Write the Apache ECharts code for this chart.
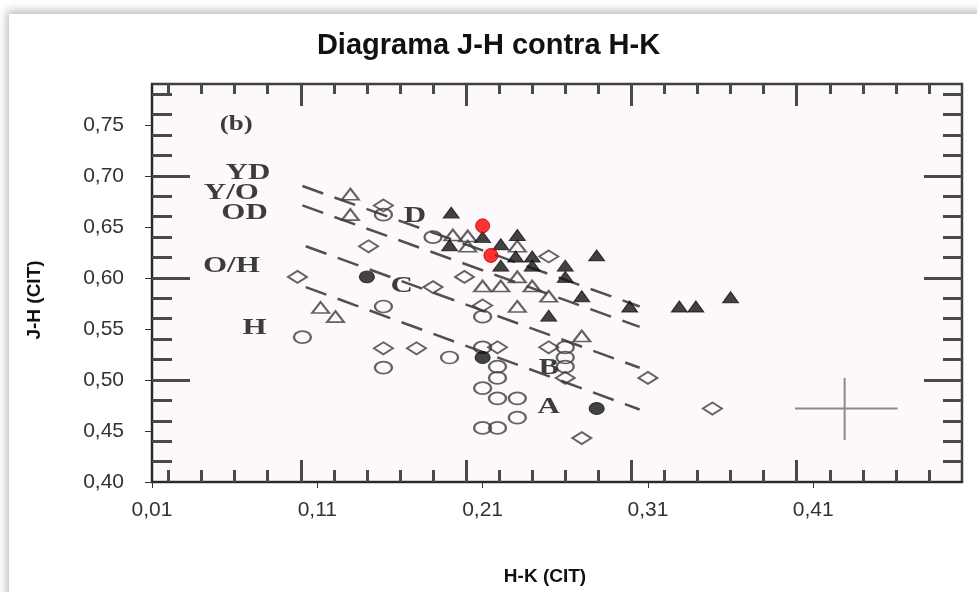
<!DOCTYPE html>
<html>
<head>
<meta charset="utf-8">
<title>Diagrama J-H contra H-K</title>
<script src="https://cdn.jsdelivr.net/npm/echarts@6.0.0/dist/echarts.min.js"></script>
<style>
  html, body { margin: 0; padding: 0; background: #fff; overflow: hidden; }
  #frame { position: absolute; left: 9px; top: 14px; width: 990px; height: 600px; background: #fff;
           box-shadow: -2px -3px 9px rgba(0, 0, 0, 0.28); }
  #chart { position: absolute; left: 0; top: 0; width: 977px; height: 592px; }
</style>
</head>
<body>
<div id="frame"></div>
<div id="chart"></div>
<script>
// axis ticks (Excel axes)
const xTicks = [0.01, 0.11, 0.21, 0.31, 0.41];
const yTicks = [0.40, 0.45, 0.50, 0.55, 0.60, 0.65, 0.70, 0.75];

// ticks drawn on the frame of the scanned figure
const scanXMinor = [0.02, 0.04, 0.06, 0.08, 0.12, 0.14, 0.16, 0.18, 0.22, 0.24, 0.26, 0.28,
                    0.32, 0.34, 0.36, 0.38, 0.42, 0.44, 0.46, 0.48];
const scanXMajor = [0.1, 0.2, 0.3, 0.4];
const scanYMinor = [0.42, 0.44, 0.46, 0.48, 0.52, 0.54, 0.56, 0.58, 0.62, 0.64, 0.66, 0.68,
                    0.72, 0.74, 0.76, 0.78];
const scanYMajor = [0.5, 0.6, 0.7];

// the two points added on top of the figure (H-K, J-H)
const redPoints = [[0.210, 0.651], [0.215, 0.622]];

// points of the scanned figure
const filledTriangles = [
    [0.191, 0.664], [0.190, 0.632], [0.210, 0.640], [0.221, 0.633], [0.231, 0.642],
    [0.230, 0.621], [0.240, 0.621], [0.279, 0.622], [0.221, 0.612], [0.240, 0.612],
    [0.260, 0.612], [0.260, 0.601], [0.270, 0.582], [0.299, 0.572], [0.329, 0.572],
    [0.339, 0.572], [0.360, 0.581], [0.250, 0.563]
];
const openTriangles = [
    [0.130, 0.682], [0.130, 0.662], [0.112, 0.571], [0.121, 0.562], [0.192, 0.642],
    [0.201, 0.641], [0.201, 0.631], [0.231, 0.631], [0.231, 0.601], [0.240, 0.592],
    [0.210, 0.592], [0.221, 0.592], [0.250, 0.582], [0.231, 0.572], [0.270, 0.543]
];
const openDiamonds = [
    [0.098, 0.601], [0.150, 0.671], [0.141, 0.631], [0.150, 0.531], [0.170, 0.531],
    [0.199, 0.601], [0.180, 0.591], [0.210, 0.573], [0.250, 0.621], [0.219, 0.532],
    [0.250, 0.532], [0.260, 0.502], [0.310, 0.502], [0.270, 0.443], [0.349, 0.472]
];
const openCircles = [
    [0.150, 0.662], [0.180, 0.640], [0.150, 0.572], [0.101, 0.542], [0.150, 0.512],
    [0.190, 0.522], [0.210, 0.562], [0.210, 0.532], [0.219, 0.513], [0.219, 0.502],
    [0.210, 0.492], [0.219, 0.482], [0.231, 0.482], [0.231, 0.463], [0.210, 0.453],
    [0.219, 0.453], [0.260, 0.532], [0.260, 0.522], [0.260, 0.513]
];
const filledCircles = [[0.140, 0.601], [0.210, 0.522], [0.279, 0.472]];

// dashed boundaries of the figure
const guideLines = [
    [[0.101, 0.690], [0.305, 0.572]],
    [[0.101, 0.671], [0.305, 0.552]],
    [[0.103, 0.631], [0.305, 0.512]],
    [[0.103, 0.591], [0.305, 0.471]]
];
// error bar cross
const crossH = [[0.399, 0.472], [0.461, 0.472]];
const crossV = [[0.429, 0.441], [0.429, 0.502]];

// labels written inside the figure
const labelText = ['(b)', 'YD', 'Y/O', 'OD', 'O/H', 'H', 'D', 'C', 'B', 'A'];
const labelHK = [0.061, 0.068, 0.058, 0.066, 0.058, 0.072, 0.169, 0.161, 0.250, 0.250];
const labelJH = [0.750, 0.703, 0.683, 0.664, 0.612, 0.551, 0.661, 0.592, 0.512, 0.473];

const sans = '"Liberation Sans", Arial, sans-serif';
const fmt = v => v.toFixed(2).replace('.', ',');
const scanInk = '#3c3c3c';

const chart = echarts.init(document.getElementById('chart'));

function scanAxis(position, min, max, values, length) {
    return {
        type: 'value', position, min, max,
        axisLine: {show: false, onZero: false},
        axisLabel: {show: false},
        splitLine: {show: false},
        axisTick: {show: true, inside: true, length, customValues: values,
                   lineStyle: {color: '#4a4a4a', width: 3}}
    };
}

function scatter(data, symbol, size, filled) {
    return {
        type: 'scatter', data, symbol, symbolSize: size, z: 3,
        itemStyle: filled
            ? {color: '#141414', borderColor: '#141414', borderWidth: 1}
            : {color: 'rgba(0,0,0,0)', borderColor: scanInk, borderWidth: 2}
    };
}

const lineSeries = guideLines.map(seg => ({
    type: 'line', data: seg, symbol: 'none', z: 2,
    lineStyle: {color: '#505050', width: 2.5, type: [22, 12]}
}));

const crossSeries = [crossH, crossV].map(seg => ({
    type: 'line', data: seg, symbol: 'none', z: 2,
    lineStyle: {color: '#8a8a8a', width: 2}
}));

const option = {
    animation: false,
    title: {
        text: 'Diagrama J-H contra H-K', left: 'center', top: 26,
        textStyle: {fontFamily: sans, fontSize: 29, fontWeight: 'bold', color: '#111'}
    },
    grid: {
        left: 152, top: 84, width: 810, height: 398, show: true,
        backgroundColor: '#fdf8fc', borderColor: '#404040', borderWidth: 2.5
    },
    xAxis: [
        {
            type: 'value', position: 'bottom', min: 0.01, max: 0.5,
            axisLine: {show: true, onZero: false, lineStyle: {color: '#222', width: 1.5}},
            axisTick: {show: true, length: 6, customValues: xTicks, lineStyle: {color: '#333'}},
            axisLabel: {customValues: xTicks, formatter: fmt, margin: 18,
                        fontFamily: sans, fontSize: 21, color: '#333'},
            splitLine: {show: false}
        },
        scanAxis('bottom', 0.01, 0.5, scanXMinor, 12),
        scanAxis('bottom', 0.01, 0.5, scanXMajor, 22),
        scanAxis('top', 0.01, 0.5, scanXMinor, 10),
        scanAxis('top', 0.01, 0.5, scanXMajor, 22)
    ],
    yAxis: [
        {
            type: 'value', position: 'left', min: 0.4, max: 0.79,
            axisLine: {show: true, onZero: false, lineStyle: {color: '#222', width: 1.5}},
            axisTick: {show: true, length: 7, customValues: yTicks, lineStyle: {color: '#333'}},
            axisLabel: {customValues: yTicks, formatter: fmt, margin: 28,
                        fontFamily: sans, fontSize: 21, color: '#333'},
            splitLine: {show: false}
        },
        scanAxis('left', 0.4, 0.79, scanYMinor, 20),
        scanAxis('left', 0.4, 0.79, scanYMajor, 38),
        scanAxis('right', 0.4, 0.79, scanYMinor, 19),
        scanAxis('right', 0.4, 0.79, scanYMajor, 38)
    ],
    graphic: [
        {type: 'text', x: 545, y: 577,
         style: {text: 'H-K (CIT)', font: 'bold 19px ' + sans, fill: '#111',
                 align: 'center', verticalAlign: 'middle'}},
        {type: 'text', x: 35, y: 300, rotation: Math.PI / 2,
         style: {text: 'J-H (CIT)', font: 'bold 19px ' + sans, fill: '#111',
                 align: 'center', verticalAlign: 'middle'}}
    ],
    series: [
        ...lineSeries,
        ...crossSeries,
        {
            type: 'custom', z: 2,
            data: labelHK.map((x, i) => [x, labelJH[i]]),
            renderItem: (params, api) => {
                const p = api.coord([api.value(0), api.value(1)]);
                const small = labelText[params.dataIndex] === '(b)';
                return {
                    type: 'text', x: p[0], y: p[1], scaleX: 1.35,
                    style: {
                        text: labelText[params.dataIndex],
                        font: 'bold ' + (small ? 20 : 23) + 'px "Liberation Serif", "DejaVu Serif", serif',
                        fill: scanInk, align: 'center', verticalAlign: 'middle'
                    }
                };
            }
        },
        scatter(openCircles, 'circle', [17, 12], false),
        scatter(openDiamonds, 'diamond', [19, 12], false),
        scatter(openTriangles, 'triangle', [17, 11], false),
        scatter(filledTriangles, 'triangle', [16, 11], true),
        scatter(filledCircles, 'circle', [15, 12], true),
        {
            type: 'scatter', data: redPoints, symbol: 'circle', symbolSize: 14, z: 5,
            itemStyle: {color: '#ff0000', borderColor: '#b00000', borderWidth: 1}
        }
    ]
};

chart.setOption(option);
</script>
</body>
</html>
